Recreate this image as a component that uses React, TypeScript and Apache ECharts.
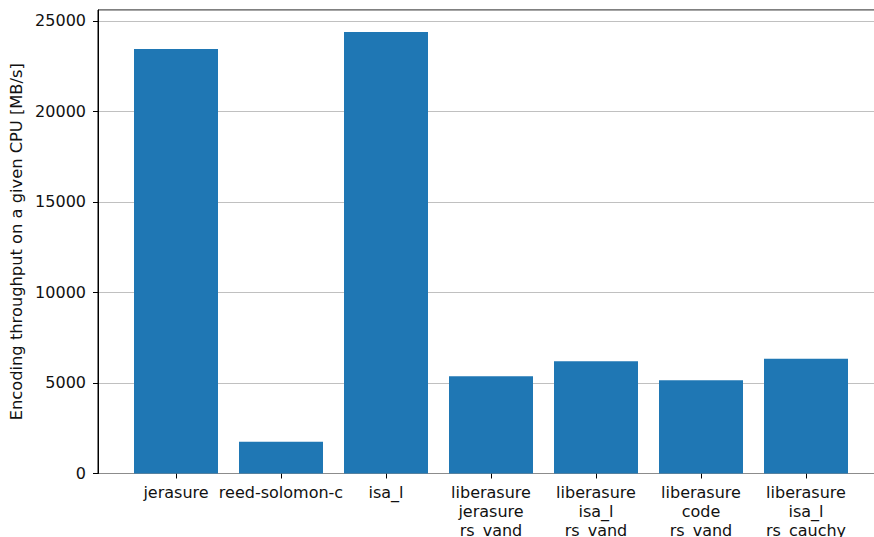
import React, { useEffect, useRef } from "react";
import * as echarts from "echarts";

const categories = [
  "jerasure",
  "reed-solomon-c",
  "isa_l",
  "liberasure\njerasure\nrs_vand",
  "liberasure\nisa_l\nrs_vand",
  "liberasure\ncode\nrs_vand",
  "liberasure\nisa_l\nrs_cauchy",
];
const throughput = [23450, 1760, 24380, 5370, 6200, 5150, 6340];
const yTicks = [0, 5000, 10000, 15000, 20000, 25000];
const yLabel = "Encoding throughput on a given CPU [MB/s]";

export default function App() {
  const ref = useRef<HTMLDivElement>(null);
  useEffect(() => {
    document.body.style.margin = "0";
    const chart = echarts.init(ref.current!, null, { renderer: "svg" });
    const yMax = Math.max(...throughput) * 1.05;
    const font = "DejaVu Sans";
    const fs = 16;
    chart.setOption({
      animation: false,
      backgroundColor: "#fff",
      grid: [
        {
          left: 98,
          width: 786,
          top: 10,
          height: 463.5,
          outerBoundsMode: "none",
          containLabel: false,
          show: true,
          borderColor: "#000",
          borderWidth: 1,
          backgroundColor: "transparent",
        },
        {
          left: 123.5,
          width: 735,
          top: 10,
          height: 463.5,
          outerBoundsMode: "none",
          containLabel: false,
        },
      ],
      xAxis: [
        {
          type: "value",
          gridIndex: 0,
          min: 0,
          max: 1,
          axisLine: { show: false },
          axisTick: { show: false },
          axisLabel: { show: false },
          splitLine: { show: false },
        },
        {
          type: "category",
          gridIndex: 1,
          data: categories,
          axisLine: { show: false, onZero: false },
          axisTick: {
            show: true,
            alignWithLabel: true,
            length: 5,
            lineStyle: { color: "#000", width: 1 },
          },
          axisLabel: {
            interval: 0,
            margin: 10,
            fontSize: fs,
            lineHeight: 18.7,
            color: "#111",
            fontFamily: font,
          },
        },
      ],
      yAxis: [
        {
          type: "value",
          gridIndex: 0,
          min: 0,
          max: yMax,
          interval: 5000,
          name: yLabel,
          nameLocation: "middle",
          nameGap: 68,
          nameTextStyle: { fontSize: 16.3, color: "#111", fontFamily: font },
          axisLine: { show: true, lineStyle: { color: "#000", width: 1 } },
          axisTick: { show: true, length: 5, lineStyle: { color: "#000" } },
          axisLabel: {
            margin: 12,
            fontSize: fs,
            color: "#111",
            fontFamily: font,
            showMaxLabel: false,
            formatter: (v: number) => (yTicks.includes(v) ? String(v) : ""),
          },
          splitLine: { show: true, lineStyle: { color: "#b0b0b0", width: 0.8 } },
        },
        {
          type: "value",
          gridIndex: 1,
          min: 0,
          max: yMax,
          show: false,
        },
      ],
      series: [
        {
          type: "bar",
          xAxisIndex: 1,
          yAxisIndex: 1,
          data: throughput,
          barWidth: "80%",
          itemStyle: { color: "#1f77b4" },
        },
      ],
    });
    return () => chart.dispose();
  }, []);
  return (
    <div style={{ width: 874, height: 537, overflow: "hidden", position: "relative" }}>
      <div ref={ref} style={{ width: 910, height: 537 }} />
    </div>
  );
}
